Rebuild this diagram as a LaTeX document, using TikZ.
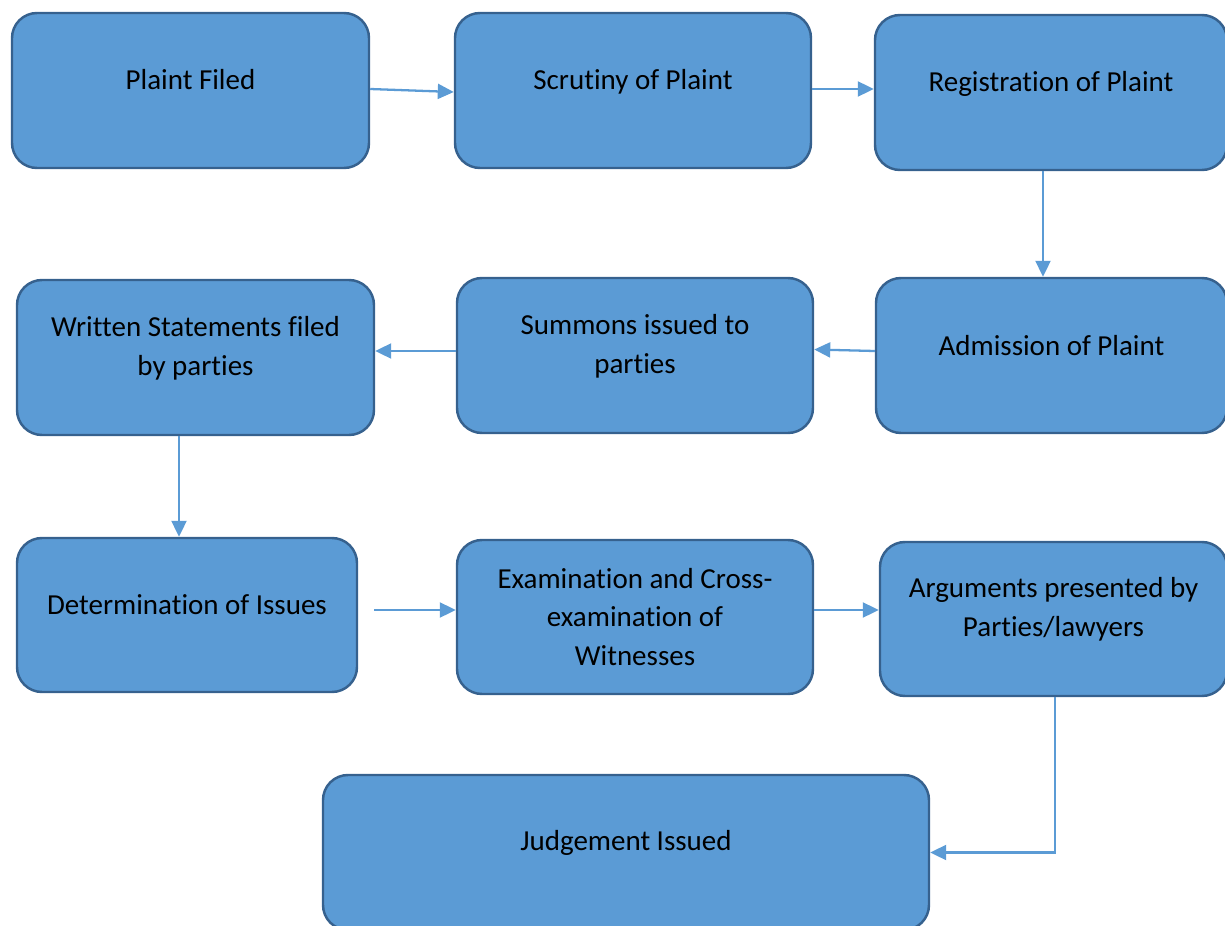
\documentclass[tikz,border=0pt]{standalone}
\usepackage{fontspec}
\setmainfont{Carlito}[Ligatures=NoCommon]
\usetikzlibrary{arrows.meta}
\definecolor{boxfill}{HTML}{5B9BD5}
\definecolor{boxline}{HTML}{36618E}
\definecolor{flowline}{HTML}{5B9BD5}
\tikzset{
	blk/.style={draw=boxline, fill=boxfill, line width=1.4pt, rounded corners=0.5cm, inner sep=0pt},
	txt/.style={align=center, inner sep=0pt, font=\fontsize{16.5}{22}\selectfont},
	flow/.style={draw=flowline, line width=1.3pt, -{Triangle[length=0.32cm,width=0.3cm]}}
}
% box: name, top-left corner, bottom-right corner, text y, text
\def\stepbox(#1)(#2,#3)(#4,#5)(#6)#7{%
	\node[blk, minimum width={(#4-#2)*0.02cm}, minimum height={(#5-#3)*0.02cm}] (#1) at ({(#2+#4)/2},{(#3+#5)/2}) {};
	\node[txt] (#1-txt) at ({(#2+#4)/2},#6) {#7};}

\begin{document}
\begin{tikzpicture}[x=0.02cm, y=-0.02cm]
		%%%%% START %%%%%
		\clip (0,0) rectangle (1225,926);
		
		\stepbox(filed)(12,13)(369,168)(80){Plaint Filed}
		\stepbox(scrutiny)(455,13)(811,168)(82){Scrutiny of Plaint}
		\stepbox(registration)(875,15)(1227,170)(84){Registration of Plaint}
		
		\stepbox(admission)(876,278)(1227,433)(346){Admission of Plaint}
		\stepbox(summons)(457,278)(813,433)(346){Summons issued to\\parties}
		\stepbox(written)(17,280)(374,435)(348){Written Statements filed\\by parties}
		
		\stepbox(determination)(17,538)(357,692)(605){Determination of Issues}
		\stepbox(examination)(457,540)(813,694)(617){Examination and Cross-\\examination of\\Witnesses}
		\stepbox(arguments)(880,542)(1227,696)(609){Arguments presented by\\Parties/lawyers}
		
		\stepbox(judgement)(323,775)(929,930)(843){Judgement Issued}
		
		% connectors
		\draw[flow] ([yshift=0.03cm]filed.east) -- ([yshift=-0.03cm]scrutiny.west);
		\draw[flow] ([yshift=0.03cm]scrutiny.east) -- ([yshift=0.03cm]scrutiny.east -| registration.west);
		\draw[flow] ([xshift=-0.16cm]registration.south) -- ([xshift=-0.16cm]registration.south |- admission.north);
		\draw[flow] ([yshift=0.09cm]admission.west) -- ([yshift=0.12cm]summons.east);
		\draw[flow] ([yshift=0.09cm]summons.west) -- ([yshift=0.09cm]summons.west -| written.east);
		\draw[flow] ([xshift=-0.33cm]written.south) -- ([xshift=-0.33cm]written.south |- determination.north);
		\draw[flow] ([xshift=0.32cm, yshift=0.1cm]determination.east) -- ([yshift=0.1cm]determination.east -| examination.west);
		\draw[flow] ([yshift=0.14cm]examination.east) -- ([yshift=0.14cm]examination.east -| arguments.west);
		\draw[flow] ([xshift=0.03cm]arguments.south) |- (judgement.east);
		%%%%% END %%%%%
\end{tikzpicture}
\end{document}
